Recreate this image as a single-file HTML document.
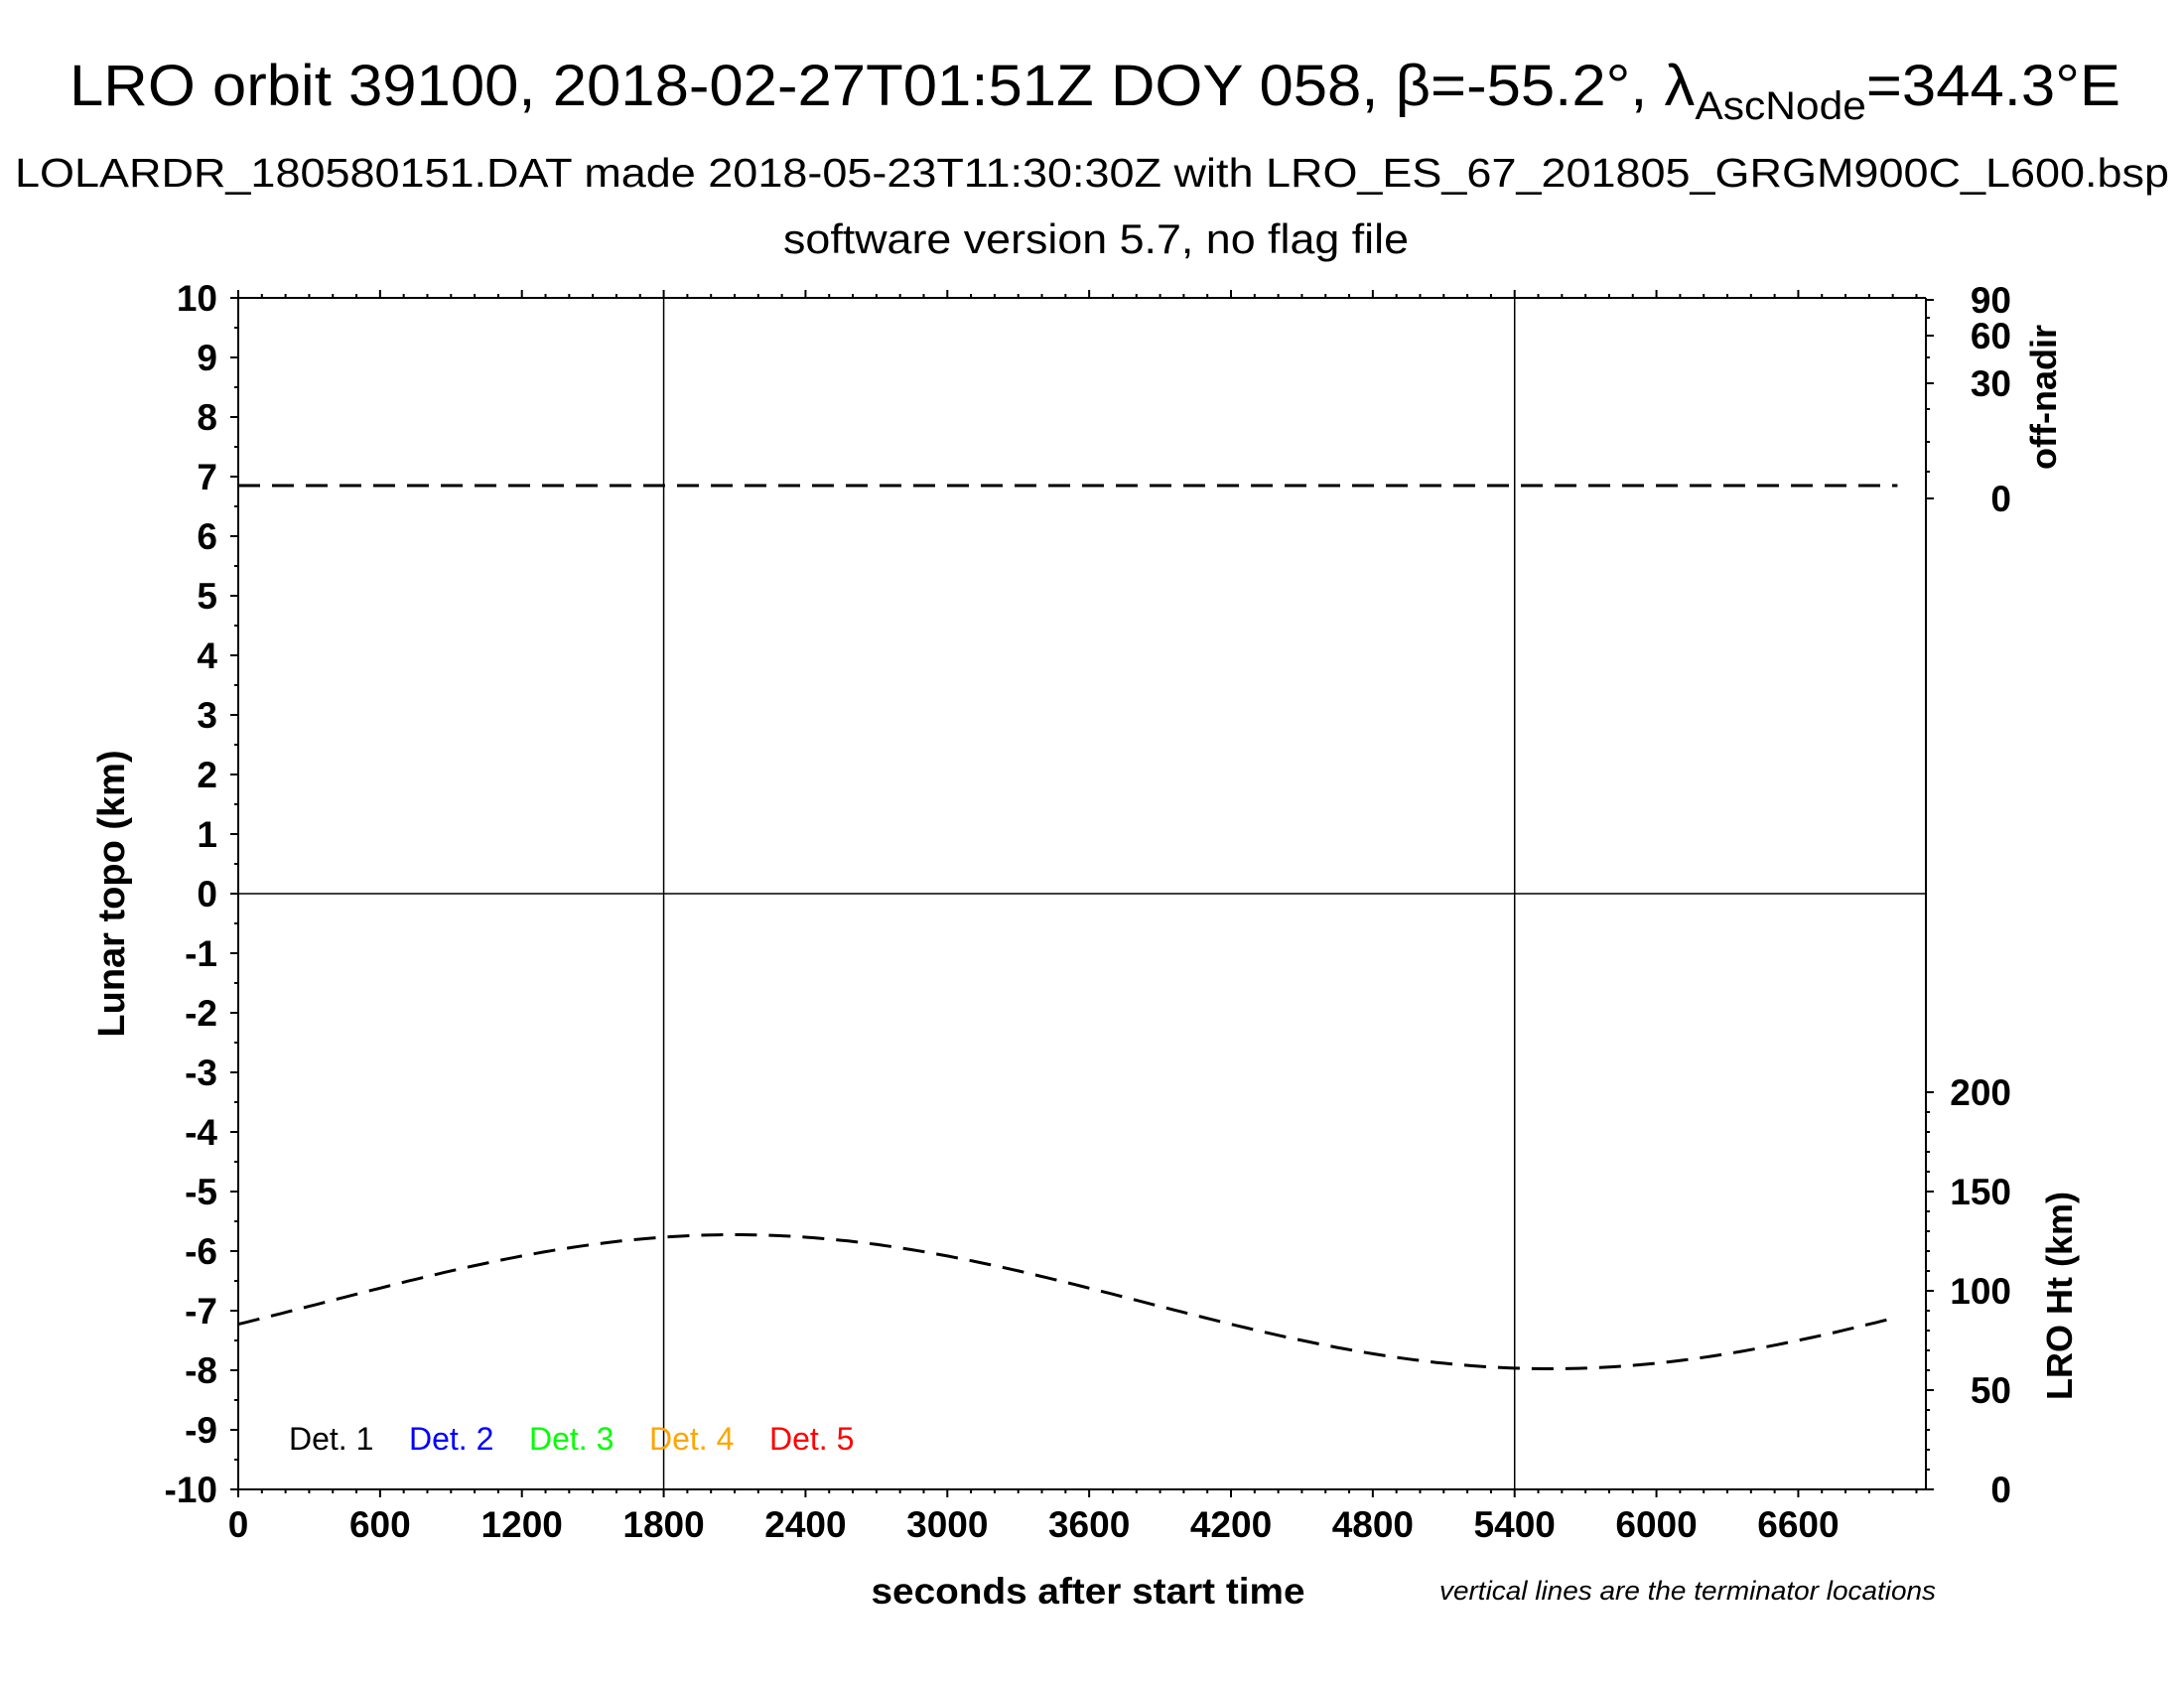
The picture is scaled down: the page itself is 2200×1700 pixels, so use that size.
<!DOCTYPE html>
<html><head><meta charset="utf-8"><style>
html,body{margin:0;padding:0;background:#fff;}
svg{display:block;font-family:"Liberation Sans",Arial,sans-serif;}
</style></head><body>
<svg id="s" width="2200" height="1700" viewBox="0 0 2200 1700" xmlns="http://www.w3.org/2000/svg">
<rect width="2200" height="1700" fill="#fff"/>
<text x="70" y="106" font-size="58" textLength="2066" lengthAdjust="spacingAndGlyphs">LRO orbit 39100, 2018-02-27T01:51Z DOY 058, β=-55.2°, λ<tspan font-size="40" dy="14">AscNode</tspan><tspan dy="-14">=344.3°E</tspan></text>
<text x="1100" y="188" font-size="41" text-anchor="middle" textLength="2170" lengthAdjust="spacingAndGlyphs">LOLARDR_180580151.DAT made 2018-05-23T11:30:30Z with LRO_ES_67_201805_GRGM900C_L600.bsp</text>
<text x="1104" y="255" font-size="42" text-anchor="middle" textLength="630" lengthAdjust="spacingAndGlyphs">software version 5.7, no flag file</text>
<g id="ax" stroke="#000" stroke-width="2" fill="none"></g>
<g id="lab" font-weight="bold" font-size="37"></g>
<text transform="translate(125,900) rotate(-90)" font-size="38" font-weight="bold" text-anchor="middle">Lunar topo (km)</text>
<text transform="translate(2071,400) rotate(-90)" font-size="36" font-weight="bold" text-anchor="middle">off-nadir</text>
<text transform="translate(2087,1305) rotate(-90)" font-size="36" font-weight="bold" text-anchor="middle">LRO Ht (km)</text>
<text x="1096" y="1615" font-size="37" font-weight="bold" text-anchor="middle" textLength="437" lengthAdjust="spacingAndGlyphs">seconds after start time</text>
<text x="1960" y="1611" font-size="27" font-style="italic" text-anchor="end" textLength="500" lengthAdjust="spacingAndGlyphs" transform="translate(-10,0)">vertical lines are the terminator locations</text>
<g font-size="32">
<text x="291" y="1460" fill="#000">Det. 1</text>
<text x="412" y="1460" fill="#0000ff">Det. 2</text>
<text x="533" y="1460" fill="#00ff00">Det. 3</text>
<text x="654" y="1460" fill="#ffa500">Det. 4</text>
<text x="775" y="1460" fill="#ff0000">Det. 5</text>
</g>
</svg>
<script>
var NS="http://www.w3.org/2000/svg",ax=document.getElementById('ax'),lab=document.getElementById('lab');
function L(x1,y1,x2,y2,w,c,d){var e=document.createElementNS(NS,'line');e.setAttribute('x1',x1);e.setAttribute('y1',y1);e.setAttribute('x2',x2);e.setAttribute('y2',y2);if(w)e.setAttribute('stroke-width',w);if(c)e.setAttribute('stroke',c);if(d)e.setAttribute('stroke-dasharray',d);ax.appendChild(e);}
function T(x,y,s,a){var e=document.createElementNS(NS,'text');e.setAttribute('x',x);e.setAttribute('y',y);e.setAttribute('text-anchor',a);e.textContent=s;lab.appendChild(e);}
var X0=240,X1=1940,Y0=300,Y1=1500;function xs(t){return X0+t*1700/7140;}
L(X0,Y0,X1,Y0);L(X0,Y1,X1,Y1);L(X0,Y0,X0,Y1);L(X1,Y0,X1,Y1);
L(xs(1800),Y0,xs(1800),Y1,1.5);L(xs(5400),Y0,xs(5400),Y1,1.5);L(X0,900,X1,900,1.5);
for(var t=0;t<=7140;t+=100){var x=xs(t),M=(t%600==0);L(x,Y0,x,Y0-(M?8:4));L(x,Y1,x,Y1+(M?8:4));if(M&&t<=6600)T(x,1548,''+t,'middle');}
for(var v=-10;v<=10;v+=0.5){var y=900-v*60,M=(v%1==0);L(X0,y,X0-(M?8:4),y);if(M)T(219,y+13,''+v,'end');}
var on=[[90,302],[60,338],[30,386],[0,502]];on.forEach(function(p){L(X1,p[1],X1+8,p[1]);T(2026,p[1]+13,''+p[0],'end');});
[320,360,412,445,475].forEach(function(y){L(X1,y,X1+4,y);});
for(var h=0;h<=200;h+=10){var y=1500-h*2;L(X1,y,X1+(h%50==0?8:4),y);if(h%50==0)T(2026,y+13,''+h,'end');}
L(X0,489,xs(7020),489,3,'#000','22,12');
var d='';for(var t=0;t<=7020;t+=30){var y=1311-67.5*Math.cos(2*Math.PI*(t-2100)/6900);d+=(t?'L':'M')+xs(t).toFixed(1)+','+y.toFixed(1);}
var p=document.createElementNS(NS,'path');p.setAttribute('d',d);p.setAttribute('stroke-width','3');p.setAttribute('stroke-dasharray','22,12');ax.appendChild(p);
</script>
</body></html>
